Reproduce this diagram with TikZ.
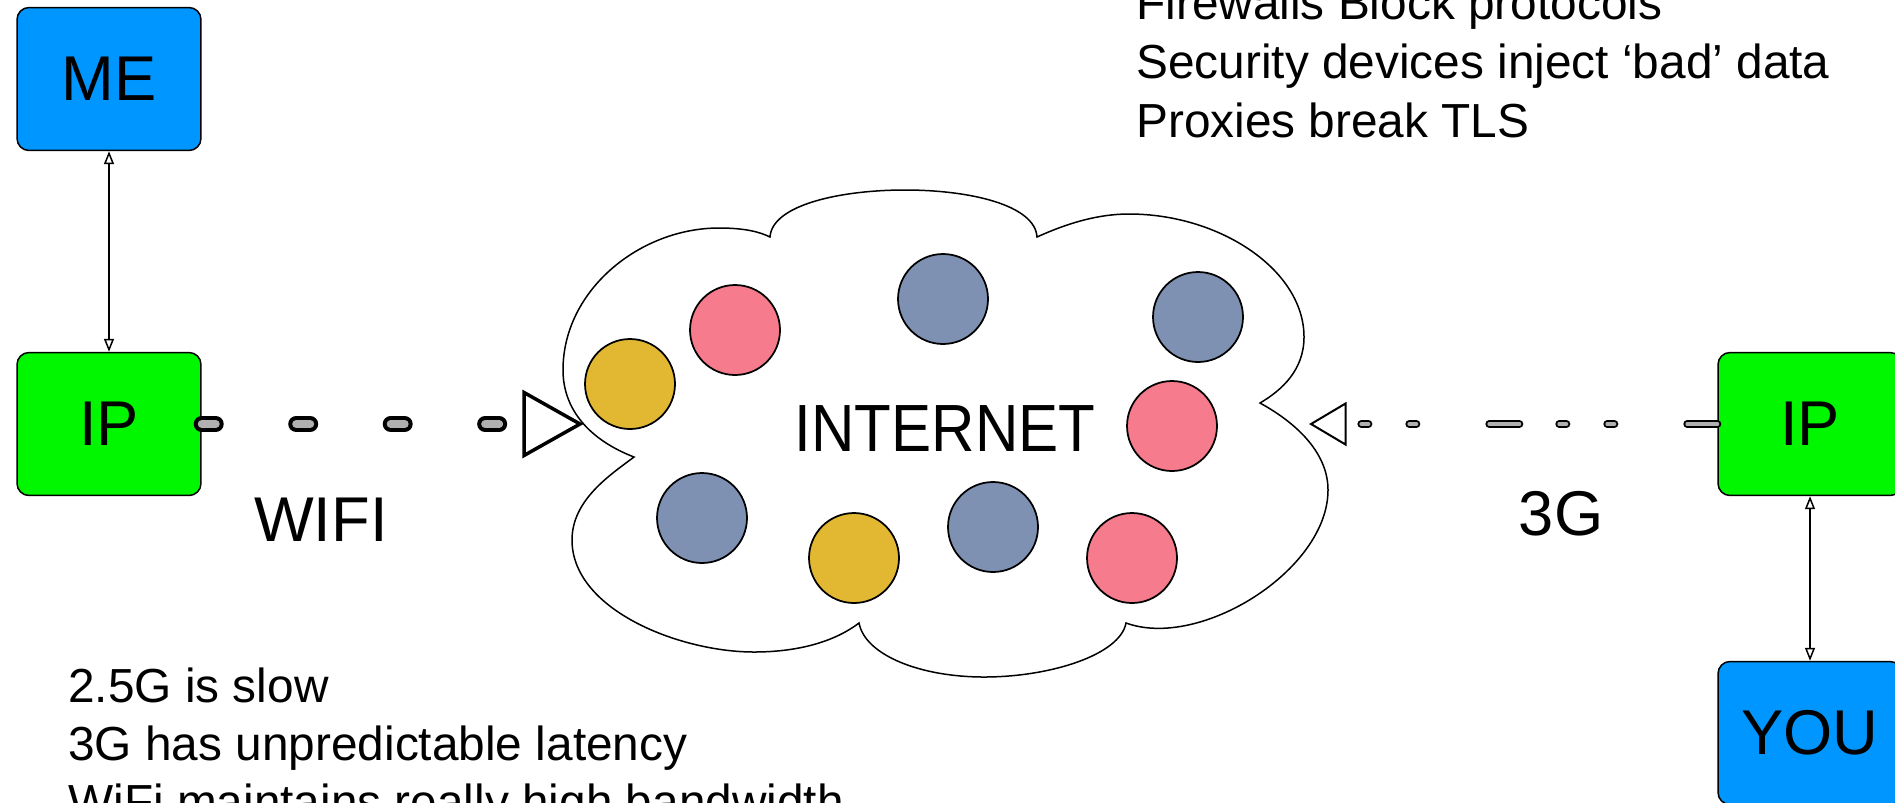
\documentclass[tikz,border=0pt]{standalone}
\usepackage{fontspec}
\setmainfont{Liberation Sans}
\newfontfamily\narrowsans[FakeStretch=0.9]{Liberation Sans}
\usetikzlibrary{arrows.meta}

\definecolor{meblue}{RGB}{0,150,255}
\definecolor{ipgreen}{RGB}{0,247,0}
\definecolor{hubyellow}{RGB}{226,184,50}
\definecolor{hubpink}{RGB}{246,123,140}
\definecolor{hubblue}{RGB}{127,145,179}
\definecolor{dashgray}{RGB}{176,176,176}

\begin{document}
\begin{tikzpicture}[x=0.02cm, y=-0.02cm,
  box/.style={draw, line width=0.03cm, rounded corners=0.24cm,
    minimum width=3.68cm, minimum height=2.86cm, font=\fontsize{36}{43}\selectfont},
  hub/.style={circle, draw, line width=0.035cm, inner sep=0, minimum size=1.8cm},
  note/.style={anchor=base west, inner sep=0, font=\fontsize{27.2}{33}\selectfont},
  link/.style={line width=0.03cm,
    {Triangle[open,length=0.26cm,width=0.2cm]}-{Triangle[open,length=0.26cm,width=0.2cm]}},
  wifidash/.style={line width=0.08cm, double=dashgray, double distance=0.16cm,
    line cap=round, dash pattern=on 0.28cm off 1.61cm},
  gdash/.style={line width=0.04cm, double=dashgray, double distance=0.08cm,
    line cap=round, dash pattern=on 0.6cm off 1.46cm on 0.14cm off 0.82cm on 0.14cm off 0.8cm}]
\useasboundingbox (0,0) rectangle (1895,802);

% the cloud
\draw[line width=0.03cm, fill=white] (770,237)
  .. controls (772,205) and (840,190) .. (905,190)
  .. controls (970,190) and (1035,205) .. (1037,237)
  .. controls (1070,222) and (1100,214) .. (1129,214)
  .. controls (1220,214) and (1304,270) .. (1304,337)
  .. controls (1304,370) and (1282,390) .. (1260,403)
  .. controls (1300,425) and (1328,455) .. (1328,490)
  .. controls (1328,570) and (1200,650) .. (1126,623)
  .. controls (1120,655) and (1050,677) .. (984,677)
  .. controls (920,677) and (865,655) .. (859,623)
  .. controls (830,645) and (790,652) .. (754,652)
  .. controls (680,652) and (572,610) .. (572,540)
  .. controls (572,500) and (610,475) .. (634,457)
  .. controls (590,440) and (563,410) .. (563,370)
  .. controls (563,290) and (640,228) .. (719,228)
  .. controls (745,228) and (760,232) .. (770,237) -- cycle;

\node[hub, fill=hubyellow] (hub1) at (630,384) {};
\node[hub, fill=hubpink] (hub2) at (735,330) {};
\node[hub, fill=hubblue] (hub3) at (943,299) {};
\node[hub, fill=hubblue] (hub4) at (1198,317) {};
\node[hub, fill=hubpink] (hub5) at (1172,426) {};
\node[hub, fill=hubblue] (hub6) at (702,518) {};
\node[hub, fill=hubyellow] (hub7) at (854,558) {};
\node[hub, fill=hubblue] (hub8) at (993,527) {};
\node[hub, fill=hubpink] (hub9) at (1132,558) {};
\node[font=\narrowsans\fontsize{38}{46}\selectfont] (internet) at (945,429) {INTERNET};

% the two ends
\node[box, fill=meblue] (me) at (109,79) {ME};
\node[box, fill=ipgreen] (ipl) at (109,424) {IP};
\node[box, fill=ipgreen] (ipr) at (1810,424) {IP};
\node[box, fill=meblue] (you) at (1810,733) {YOU};
\draw[link] (me) -- (ipl);
\draw[link] (ipr) -- (you);

% wifi and 3g links
\coordinate (wifitip) at (580,424);
\coordinate (gtip) at (1311,424);
\draw[wifidash, shorten >=1.12cm] (ipl.east) -- (wifitip);
\draw[line width=0.07cm, fill=white] (wifitip) -- ++(-56,-31.5) -- ++(0,63) -- cycle;
\draw[gdash, shorten >=0.7cm] (ipr.west) -- (gtip);
\draw[line width=0.04cm, fill=white] (gtip) -- ++(34.5,-20.5) -- ++(0,41) -- cycle;
\node[font=\fontsize{36}{43}\selectfont] (wifi) at (321,520) {WIFI};
\node[font=\fontsize{36}{43}\selectfont] (threeg) at (1561,514) {3G};

% notes
\node[note] (fw1) at (1136,19) {Firewalls Block protocols};
\node[note] (fw2) at (1136,78) {Security devices inject ‘bad’ data};
\node[note] (fw3) at (1136,137) {Proxies break TLS};
\node[note] (net1) at (68,702) {2.5G is slow};
\node[note] (net2) at (68,760) {3G has unpredictable latency};
\node[note] (net3) at (68,818) {WiFi maintains really high bandwidth};
\end{tikzpicture}
\end{document}
